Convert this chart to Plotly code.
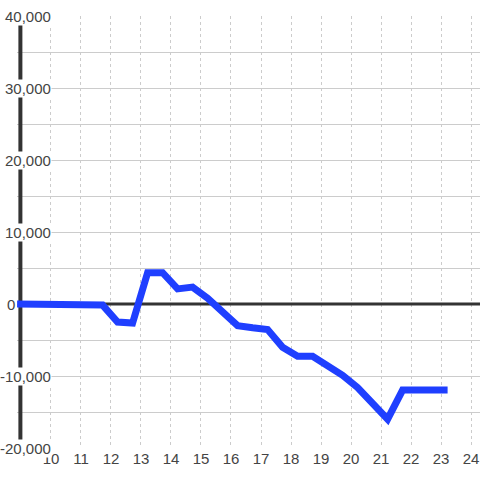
import plotly.graph_objects as go

# ---- data ----
x_values = [8.87, 11.22, 11.72, 12.22, 12.72, 13.22, 13.72, 14.22, 14.72, 15.22, 15.72,
            16.22, 16.72, 17.22, 17.72, 18.22, 18.72, 19.22, 19.72, 20.22, 20.72,
            21.22, 21.72, 22.22, 22.72, 23.22]
y_values = [0, 0, -150, -2500, -2650, 4350, 4350, 2100, 2350, 800, -1100,
            -3000, -3300, -3550, -6000, -7250, -7250, -8450, -9900, -11600, -13800,
            -16000, -11950, -11950, -11950, -11950]
x_ticks = list(range(10, 25))
y_label_values = [-20000, -10000, 0, 10000, 20000, 30000, 40000]

X_MIN, X_MAX = 8.867, 24.3
Y_MIN, Y_MAX = -20000, 40000
AXIS_X = 8.98
FONT = "Liberation Sans, Arial, sans-serif"
TEXT_COLOR = "#444444"

fig = go.Figure()
fig.add_trace(go.Scatter(
    x=x_values, y=y_values, mode="lines",
    line=dict(color="#1f3fff", width=7),
    hoverinfo="skip", showlegend=False,
))

shapes = [
    dict(type="line", xref="x", yref="y", x0=AXIS_X, x1=X_MAX, y0=0, y1=0,
         line=dict(color="#333333", width=3), layer="between"),
    dict(type="line", xref="x", yref="y", x0=AXIS_X, x1=AXIS_X, y0=Y_MIN, y1=Y_MAX,
         line=dict(color="#333333", width=4), layer="between"),
]

annotations = []
for v in y_label_values:
    annotations.append(dict(
        xref="paper", yref="y", x=0, y=v,
        xshift=35 if v != 0 else -1,
        xanchor="right", yanchor="middle",
        text=f"{v:,}", showarrow=False,
        font=dict(family=FONT, size=15, color=TEXT_COLOR),
        bgcolor="white", borderpad=0,
    ))

fig.update_layout(
    width=480, height=480,
    margin=dict(l=17, r=0, t=16, b=32),
    paper_bgcolor="white", plot_bgcolor="white",
    shapes=shapes, annotations=annotations,
    xaxis=dict(
        range=[X_MIN, X_MAX], tickvals=x_ticks, ticktext=[str(t) for t in x_ticks],
        showgrid=True, gridcolor="#cccccc", gridwidth=1, griddash="3px,3px",
        zeroline=False, showline=False, ticks="",
        tickfont=dict(family=FONT, size=15, color=TEXT_COLOR),
    ),
    yaxis=dict(
        range=[Y_MIN, Y_MAX], dtick=5000, tick0=0,
        showgrid=True, gridcolor="#cccccc", gridwidth=1,
        zeroline=False, showline=False, showticklabels=False, ticks="",
    ),
)

fig.write_html(
    "out.html",
    config={"displayModeBar": False},
    post_script="document.body.style.margin='0';document.body.style.padding='0';",
)
